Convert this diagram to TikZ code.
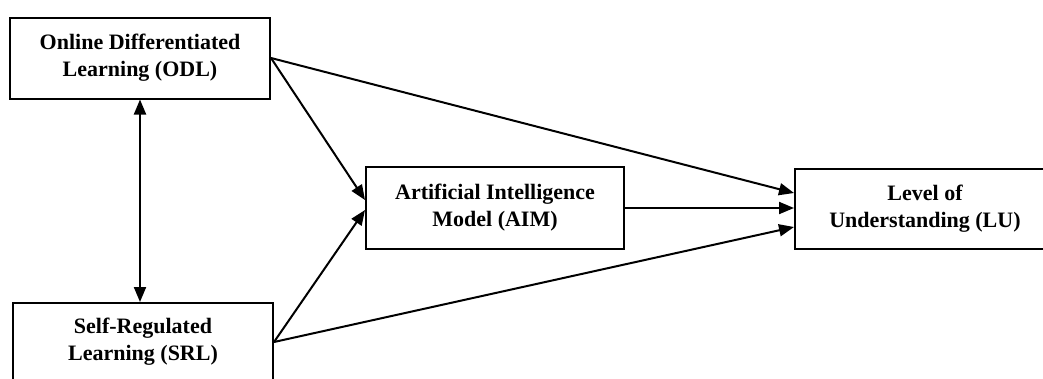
\documentclass[tikz,border=0pt]{standalone}
\usepackage{fontspec}
\setmainfont{Liberation Serif}
\usetikzlibrary{arrows.meta}
\begin{document}
\begin{tikzpicture}[x=1pt,y=-1pt,
  box/.style={draw=black,line width=2pt,fill=white,inner sep=0pt,
    align=center,font=\fontsize{22}{27}\selectfont\bfseries,text=black},
  conn/.style={draw=black,line width=2pt,-{Triangle[length=15pt,width=12pt]}},
  dconn/.style={draw=black,line width=2pt,{Triangle[length=15pt,width=12pt]}-{Triangle[length=15pt,width=12pt]}}]
\useasboundingbox (0,0) rectangle (1043,378);
\fill[white] (0,0) rectangle (1043,378);
\node[box,minimum width=260pt,minimum height=81pt] (odl) at (140,58) {Online Differentiated\\Learning (ODL)};
\node[box,minimum width=260pt,minimum height=78pt] (srl) at (143,342) {Self-Regulated\\Learning (SRL)};
\node[box,minimum width=258pt,minimum height=82pt] (aim) at (495,208) {Artificial Intelligence\\Model (AIM)};
\node[box,minimum width=260pt,minimum height=80pt] (lu) at (925,209) {Level of\\Understanding (LU)};
\draw[dconn] (odl.south) -- (odl.south |- srl.north);
\draw[conn] (odl.east) -- ([yshift=8pt]aim.west);
\draw[conn] (odl.east) -- ([yshift=16pt]lu.west);
\draw[conn] (srl.east) -- ([yshift=-2pt]aim.west);
\draw[conn] (srl.east) -- ([yshift=-18pt]lu.west);
\draw[conn] (aim.east) -- (aim.east -| lu.west);
\end{tikzpicture}
\end{document}
